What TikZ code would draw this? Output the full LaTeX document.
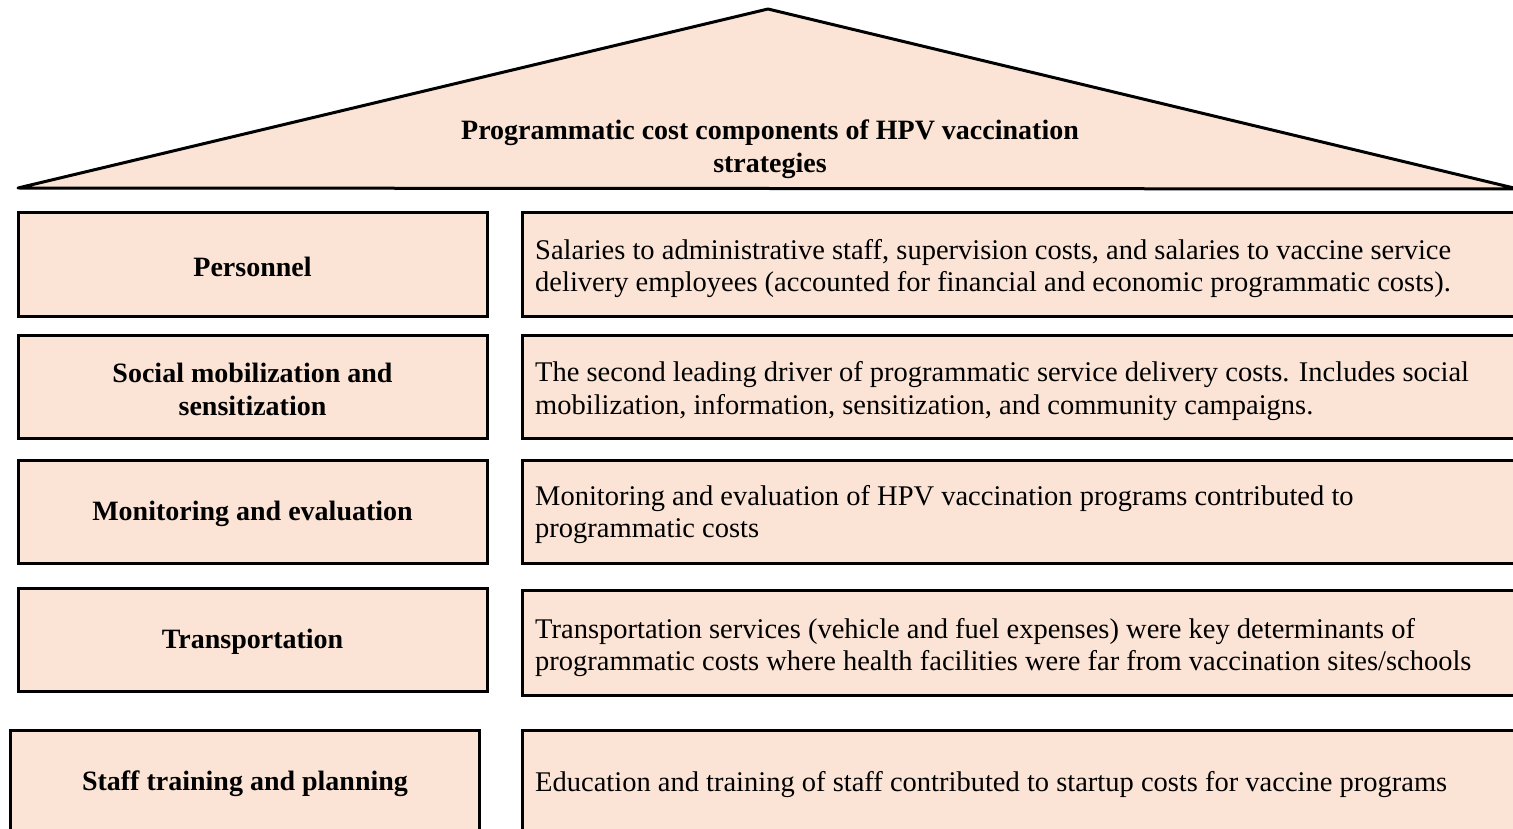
\documentclass[tikz,border=0pt]{standalone}
\usepackage{fontspec}
\setmainfont{Liberation Serif}
\definecolor{peach}{HTML}{FBE4D5}
\begin{document}
\begin{tikzpicture}[x=1pt,y=-1pt,
  box/.style={draw=black, line width=3pt, fill=peach, rectangle, inner sep=0pt},
  lbox/.style={box, minimum width=469pt, minimum height=103pt},
  rbox/.style={box, anchor=west, minimum width=1000pt, minimum height=103pt},
  lbl/.style={font=\fontsize{28}{33}\selectfont\bfseries, align=center, inner sep=0pt},
  desc/.style={font=\fontsize{28.5}{32.5}\selectfont, align=left, anchor=west, inner sep=0pt},
  ttl/.style={font=\fontsize{28}{33}\selectfont\bfseries, align=center, inner sep=0pt}]
\clip (0,0) rectangle (1513,829);
\fill[white] (0,0) rectangle (1513,829);
% roof
\coordinate (rl) at (18,188);
\coordinate (ra) at (768,9);
\coordinate (rr) at (1518,189);
\draw[draw=black, line width=3pt, fill=peach, line join=round] (rl) -- (ra) -- (rr) -- cycle;
\node[ttl] (title) at (770,149) {Programmatic cost components of HPV vaccination\\strategies};
% left column
\node[lbox] (l1) at (252.5,264.5) {};
\node[lbox] (l2) at (252.5,387) {};
\node[lbox] (l3) at (252.5,511.5) {};
\node[lbox] (l4) at (252.5,639.5) {};
\node[lbox] (l5) at (245,782) {};
\node[lbl, yshift=-2pt] (lt1) at (l1) {Personnel};
\node[lbl, yshift=-2pt] (lt2) at (l2) {Social mobilization and\\sensitization};
\node[lbl, yshift=-2pt] (lt3) at (l3) {Monitoring and evaluation};
\node[lbl, yshift=-2pt] (lt4) at (l4) {Transportation};
\node[lbl, yshift=-2pt] (lt5) at (l5) {Staff training and planning};
% right column
\node[rbox] (r1) at (521,264.5) {};
\node[rbox] (r2) at (521,387) {};
\node[rbox] (r3) at (521,511.5) {};
\node[rbox, minimum height=105pt] (r4) at (521,642.5) {};
\node[rbox] (r5) at (521,782) {};
\node[desc, xshift=14pt, yshift=-4pt] (rt1) at (r1.west) {Salaries to administrative staff, supervision costs, and salaries to vaccine service\\delivery employees (accounted for financial and economic programmatic costs).};
\node[desc, xshift=14pt, yshift=-4pt] (rt2) at (r2.west) {The second leading driver of programmatic service delivery costs. Includes social\\mobilization, information, sensitization, and community campaigns.};
\node[desc, xshift=14pt, yshift=-3pt] (rt3) at (r3.west) {Monitoring and evaluation of HPV vaccination programs contributed to\\programmatic costs};
\node[desc, xshift=14pt, yshift=-5pt] (rt4) at (r4.west) {Transportation services (vehicle and fuel expenses) were key determinants of\\programmatic costs where health facilities were far from vaccination sites/schools};
\node[desc, xshift=14pt, yshift=-3pt] (rt5) at (r5.west) {Education and training of staff contributed to startup costs for vaccine programs};
\end{tikzpicture}
\end{document}
